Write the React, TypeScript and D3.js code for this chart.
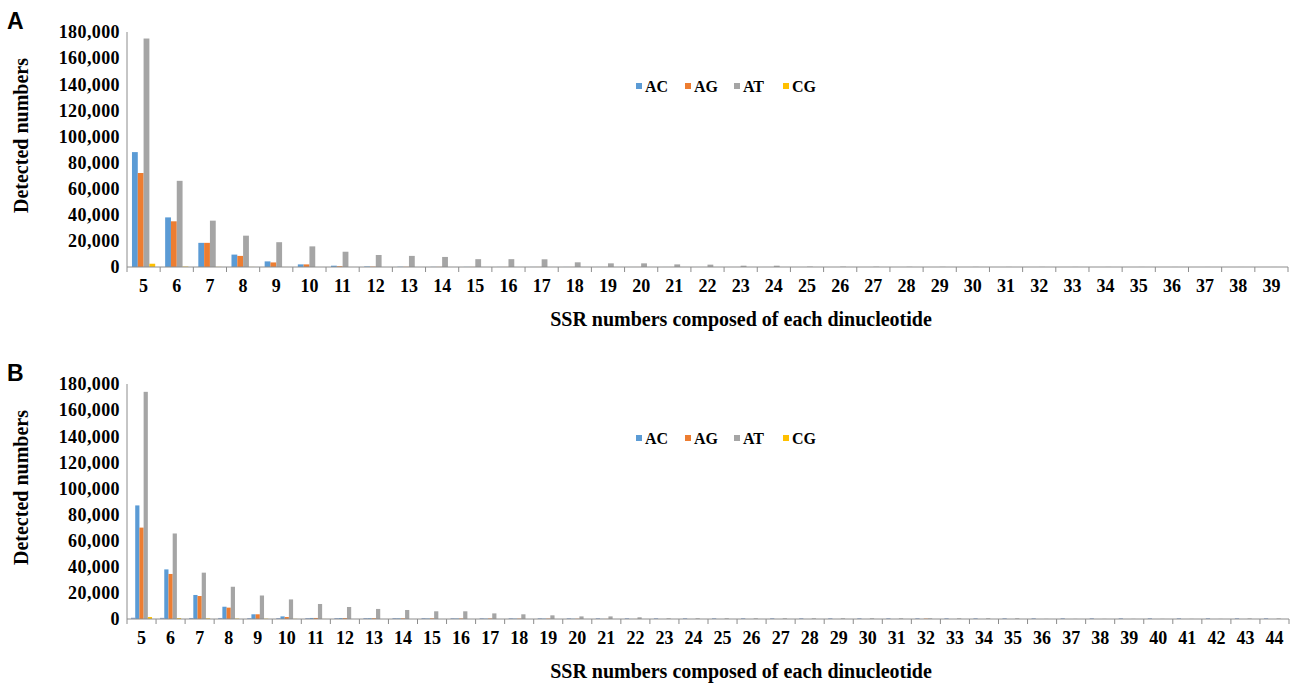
import React from "react";
import * as d3 from "d3";

// ---------- Data ----------
const catsA: number[] = [5,6,7,8,9,10,11,12,13,14,15,16,17,18,19,20,21,22,23,24,25,26,27,28,29,30,31,32,33,34,35,36,37,38,39];
const acA = [88000,38000,18500,9500,4300,2000,1000,400,200,100,80,60,50,40,30,20,20,10,10,10,0,0,0,0,0,0,0,0,0,0,0,0,0,0,0];
const agA = [72000,35000,18500,8500,3500,2000,600,300,150,100,80,60,50,40,30,20,20,10,10,10,0,0,0,0,0,0,0,0,0,0,0,0,0,0,0];
const atA = [175000,66000,35500,24000,19000,15800,11700,9200,8500,7700,6000,6000,5900,3600,2800,2800,2000,1800,1000,1000,300,250,200,150,120,100,90,80,70,60,50,40,30,20,20];
const cgA = [2500,300,100,50,20,10,0,0,0,0,0,0,0,0,0,0,0,0,0,0,0,0,0,0,0,0,0,0,0,0,0,0,0,0,0];

const catsB: number[] = [5,6,7,8,9,10,11,12,13,14,15,16,17,18,19,20,21,22,23,24,25,26,27,28,29,30,31,32,33,34,35,36,37,38,39,40,41,42,43,44];
const otherB = [1000,900,800,800,700,700,700,700,700,700,700,600,600,600,600,600,600,600,600,600,600,600,600,600,600,600,600,600,600,600,600,600,600,600,600,600,600,600,600,600];
const acB = [87000,38000,18400,9400,3600,2000,800,700,600,500,400,400,300,300,300,200,100,50,0,0,0,0,0,0,0,0,0,0,0,0,0,0,0,0,0,0,0,0,0,0];
const agB = [70000,34500,17600,8700,3600,1500,800,700,600,500,500,400,400,300,300,200,100,50,0,0,0,0,0,0,0,0,0,300,0,0,0,0,0,0,0,0,0,0,0,0];
const atB = [174000,65500,35500,24700,18000,15000,11500,9200,7700,6900,5900,5900,4300,3600,2800,2000,2000,1300,500,500,500,500,500,500,500,500,500,500,500,500,500,100,100,100,100,100,100,100,400,400];
const cgB = [1500,700,500,300,200,100,50,0,0,0,0,0,0,0,0,0,0,0,0,0,0,0,0,0,0,0,0,0,0,0,0,0,0,0,0,0,0,0,0,0];

const yTicks = [0,20000,40000,60000,80000,100000,120000,140000,160000,180000];
const legendNames = ["AC","AG","AT","CG"];
const legendColors = ["#5b9bd5","#ed7d31","#a5a5a5","#ffc000"];

const serif = "Liberation Serif, Times New Roman, serif";
const axisColor = "#8c8c8c";

type Series = { name: string; values: number[]; color: string };

function Panel(props: {
  letter: string; top: number; bottom: number; left: number; right: number;
  cats: number[]; series: Series[]; inner: [number, number];
}) {
  const { letter, top, bottom, left, right, cats, series, inner } = props;
  const x = d3.scaleBand<string>().domain(cats.map(String)).range([left, right]).padding(0);
  const bw = x.bandwidth();
  const x1 = d3.scaleBand<string>().domain(series.map(s => s.name)).range([bw * inner[0], bw * inner[1]]).padding(0);
  const y = d3.scaleLinear().domain([0, 180000]).range([bottom, top]);
  const fmt = d3.format(",");
  const tickXs = cats.map(c => x(String(c)) as number).concat([right]);
  const legendY = top + 54;
  const textStyle = { fontFamily: serif, fontWeight: 700 as const };
  return (
    <g>
      <text x={7} y={top - 3} style={{ fontFamily: "Liberation Sans, Arial, sans-serif", fontWeight: 700 }} fontSize={23}>{letter}</text>
      {/* bars */}
      {series.map(s => (
        <g key={s.name}>
          {s.values.map((v, i) => {
            const h = bottom - y(v);
            if (h <= 0) return null;
            return <rect key={i} x={(x(String(cats[i])) as number) + (x1(s.name) as number)} y={y(v)} width={x1.bandwidth()} height={h} fill={s.color} />;
          })}
        </g>
      ))}
      {/* y axis */}
      <line x1={left} x2={left} y1={top} y2={bottom} stroke={axisColor} strokeWidth={1} />
      {yTicks.map(t => (
        <text key={t} x={left - 7} y={y(t)} dy="0.35em" textAnchor="end" style={textStyle} fontSize={18} letterSpacing={0.4}>{fmt(t)}</text>
      ))}
      {/* x axis */}
      <line x1={left} x2={right} y1={bottom} y2={bottom} stroke={axisColor} strokeWidth={1} />
      {tickXs.map((tx, i) => (
        <line key={i} x1={tx} x2={tx} y1={bottom} y2={bottom + 5} stroke={axisColor} strokeWidth={1} />
      ))}
      {cats.map(c => (
        <text key={c} x={(x(String(c)) as number) + bw / 2} y={bottom + 19} dy="0.35em" textAnchor="middle" style={textStyle} fontSize={18}>{c}</text>
      ))}
      <text x={741} y={bottom + 52} dy="0.35em" textAnchor="middle" style={textStyle} fontSize={20}>SSR numbers composed of each dinucleotide</text>
      <text transform={`translate(21,${(top + bottom) / 2 - 14}) rotate(-90)`} dy="0.35em" textAnchor="middle" style={textStyle} fontSize={20}>Detected numbers</text>
      {/* legend */}
      {legendNames.map((n, i) => (
        <g key={n} transform={`translate(${636 + i * 49},${legendY})`}>
          <rect x={0} y={-3} width={6} height={6} fill={legendColors[i]} />
          <text x={9} y={0} dy="0.35em" style={textStyle} fontSize={16}>{n}</text>
        </g>
      ))}
    </g>
  );
}

export default function App() {
  const seriesA: Series[] = [
    { name: "AC", values: acA, color: legendColors[0] },
    { name: "AG", values: agA, color: legendColors[1] },
    { name: "AT", values: atA, color: legendColors[2] },
    { name: "CG", values: cgA, color: legendColors[3] },
  ];
  const seriesB: Series[] = [
    { name: "other", values: otherB, color: "#8eaad8" },
    { name: "AC", values: acB, color: legendColors[0] },
    { name: "AG", values: agB, color: legendColors[1] },
    { name: "AT", values: atB, color: legendColors[2] },
    { name: "CG", values: cgB, color: legendColors[3] },
  ];
  return (
    <svg width={1295} height={689} style={{ position: "absolute", left: 0, top: 0, background: "#fff" }}>
      <Panel letter="A" top={32} bottom={267} left={127} right={1288} cats={catsA} series={seriesA} inner={[0.15, 0.85]} />
      <Panel letter="B" top={384} bottom={619} left={127} right={1289} cats={catsB} series={seriesB} inner={[0.138, 0.862]} />
    </svg>
  );
}
